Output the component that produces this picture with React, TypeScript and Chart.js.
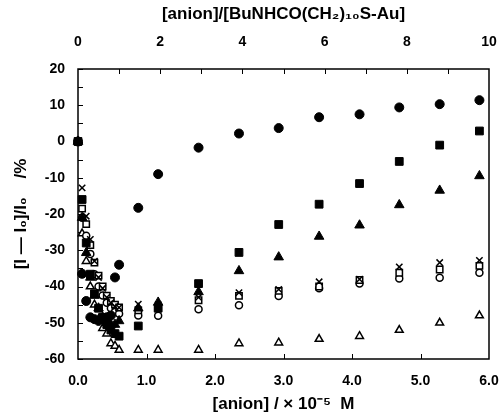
import React, { useEffect, useRef } from "react";
import { Chart, registerables } from "chart.js";

Chart.register(...registerables);

// [anion] / x10^-5 M
const concentration = [0, 0.06, 0.12, 0.18, 0.24, 0.3, 0.36, 0.42, 0.48, 0.54, 0.6, 0.88, 1.17, 1.76, 2.35, 2.93, 3.52, 4.11, 4.69, 5.28, 5.86];

const filledSquare = [0, -16, -28, -36.6, -42, -46, -48.5, -50.5, -52, -53, -53.7, -50.9, -46, -39.2, -30.6, -22.9, -17.3, -11.6, -5.5, -1, 2.9];
const filledTriangle = [0, -21, -30.7, -37.5, -42.5, -46, -48.5, -50, -50.5, -50.5, -49.5, -46, -44.4, -41.5, -35.7, -31.9, -26.2, -23.1, -17.5, -13.5, -9.5];
const filledCircle = [0, -36.5, -44, -48.5, -49, -49.5, -49, -48.5, -48, -37.5, -34, -18.3, -9, -1.7, 2.2, 3.7, 6.7, 7.5, 9.4, 10.3, 11.4];
const cross = [0, -12.8, -20.6, -27, -33, -37.5, -40.5, -43, -44.5, -45.5, -45.8, -44.9, -45, -43, -41.7, -40.8, -38.7, -38, -34.6, -33.4, -32.8];
const openSquare = [0, -18.5, -22.8, -28.6, -33.4, -37, -40, -42.5, -44, -45, -45.8, -46.6, -45.8, -43.8, -42.6, -41.2, -40, -38.2, -36.2, -35.3, -34.3];
const openCircle = [0, -21, -26, -31, -36.6, -40, -42.5, -44.5, -46, -47, -47.5, -48, -48.1, -46.3, -45.2, -42.6, -40.5, -39.2, -37.8, -37.6, -36.2];
const openTriangle = [0, -25.4, -33, -40, -45, -49, -51.5, -53, -55.7, -56.4, -57.5, -57.5, -57.5, -57.5, -55.7, -55.5, -54.5, -53.7, -52, -50, -48];

const xMin = 0, xMax = 6, xStep = 1;
const ratioMin = 0, ratioMax = 10, ratioStep = 2;
const yMin = -60, yMax = 20, yStep = 10;

const FONT = "'Liberation Sans', Arial, sans-serif";

const framePlugin = {
  id: "frame",
  beforeDatasetsDraw(chart: any) {
    const { ctx, chartArea: a, scales } = chart;
    ctx.save();
    ctx.strokeStyle = "#000";
    ctx.lineWidth = 1.5;
    ctx.strokeRect(a.left, a.top, a.right - a.left, a.bottom - a.top);
    ctx.lineWidth = 1;
    ctx.beginPath();
    for (let v = yMin; v <= yMax; v += 5) {
      const y = Math.round(scales.y.getPixelForValue(v)) + 0.5;
      ctx.moveTo(a.left, y);
      ctx.lineTo(a.left + 5, y);
    }
    for (let v = xMin + 1; v < xMax; v += 1) {
      const x = Math.round(scales.x.getPixelForValue(v)) + 0.5;
      ctx.moveTo(x, a.bottom);
      ctx.lineTo(x, a.bottom - 5);
    }
    for (let v = ratioMin + 1; v < ratioMax; v += 1) {
      const x = Math.round(scales.x2.getPixelForValue(v)) + 0.5;
      ctx.moveTo(x, a.top);
      ctx.lineTo(x, a.top + 5);
    }
    ctx.stroke();
    ctx.restore();
  },
};

function mk(label: string, values: number[], style: string, radius: number, filled: boolean, bw: number) {
  return {
    label,
    data: concentration.map((x, i) => ({ x, y: values[i] })),
    pointStyle: style,
    pointRadius: radius,
    pointBackgroundColor: filled ? "#000" : "#fff",
    pointBorderColor: "#000",
    pointBorderWidth: bw,
    showLine: false,
    clip: false as const,
    xAxisID: "x",
    yAxisID: "y",
  };
}

export default function App() {
  const ref = useRef<HTMLCanvasElement>(null);
  useEffect(() => {
    document.body.style.margin = "0";
    const tickFont = { family: FONT, size: 14, weight: "bold" as const };
    const titleFont = { family: FONT, size: 17, weight: "bold" as const };
    const chart = new Chart(ref.current!, {
      type: "scatter",
      data: {
        datasets: [
          mk("filled square", filledSquare, "rect", 5.5, true, 1),
          mk("filled triangle", filledTriangle, "triangle", 5.5, true, 1),
          mk("filled circle", filledCircle, "circle", 4.5, true, 1),
          mk("cross", cross, "crossRot", 4.5, false, 1.5),
          mk("open square", openSquare, "rect", 4.5, false, 1.5),
          mk("open circle", openCircle, "circle", 3.5, false, 1.5),
          mk("open triangle", openTriangle, "triangle", 4.5, false, 1.5),
        ] as any,
      },
      options: {
        animation: false,
        responsive: false,
        devicePixelRatio: 1,
        layout: { padding: { left: 0, right: 11, top: 0, bottom: 0 } },
        plugins: { legend: { display: false }, tooltip: { enabled: false } },
        scales: {
          x: {
            type: "linear",
            position: "bottom",
            min: xMin,
            max: xMax,
            grid: { display: false, drawTicks: false },
            border: { display: false },
            ticks: { stepSize: xStep, color: "#000", font: tickFont, padding: 14, callback: (v: any) => Number(v).toFixed(1) },
            title: { display: true, text: "[anion] / × 10⁻⁵  M", color: "#000", font: titleFont, padding: { top: 0, bottom: 1 } },
            afterFit: (s: any) => { s.height = 57; s.paddingLeft = 0; s.paddingRight = 0; },
          },
          x2: {
            type: "linear",
            position: "top",
            min: ratioMin,
            max: ratioMax,
            grid: { display: false, drawTicks: false },
            border: { display: false },
            ticks: { stepSize: ratioStep, color: "#000", font: tickFont, padding: 18 },
            title: { display: true, text: "[anion]/[BuNHCO(CH₂)₁₀S-Au]", color: "#000", font: titleFont, padding: { top: 4, bottom: 0 } },
            afterFit: (s: any) => { s.height = 69; s.paddingLeft = 0; s.paddingRight = 0; },
          },
          y: {
            type: "linear",
            position: "left",
            min: yMin,
            max: yMax,
            grid: { display: false, drawTicks: false },
            border: { display: false },
            ticks: { stepSize: yStep, color: "#000", font: tickFont, padding: 13 },
            title: { display: true, text: "[I — I₀]/I₀    /%", color: "#000", font: titleFont, padding: { top: 11, bottom: 0 } },
            afterFit: (s: any) => { s.width = 78; s.paddingTop = 0; s.paddingBottom = 0; },
          },
        },
      } as any,
      plugins: [framePlugin],
    });
    return () => chart.destroy();
  }, []);
  return (
    <div style={{ width: 500, height: 416 }}>
      <canvas ref={ref} width={500} height={416} style={{ display: "block" }} />
    </div>
  );
}
